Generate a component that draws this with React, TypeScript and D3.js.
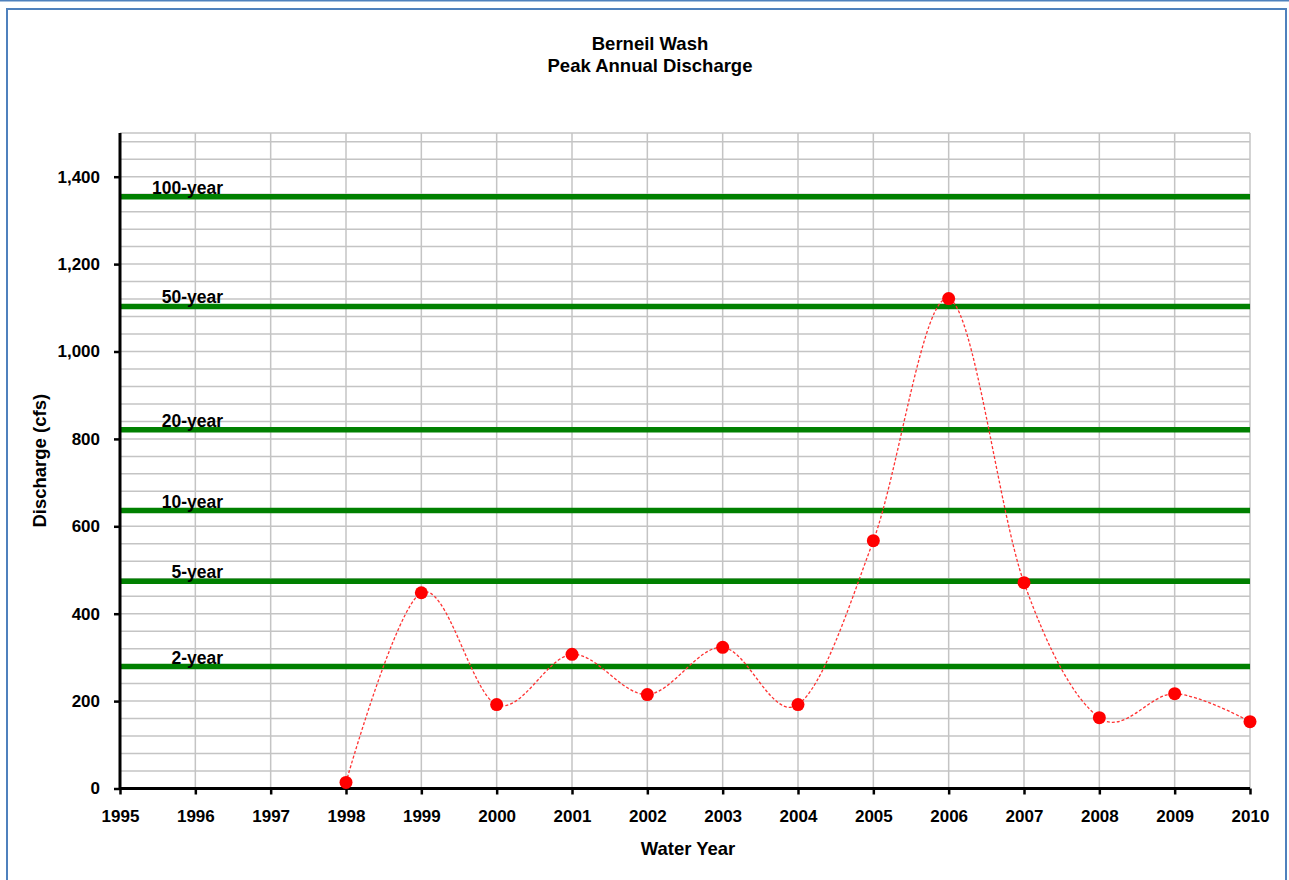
import React, { useEffect, useRef } from 'react'
import * as d3 from 'd3'

const years = [1998, 1999, 2000, 2001, 2002, 2003, 2004, 2005, 2006, 2007, 2008, 2009, 2010]
const discharge = [14, 448, 192, 307, 215, 323, 192, 567, 1121, 471, 162, 217, 153]

const returnLabels = ['100-year', '50-year', '20-year', '10-year', '5-year', '2-year']
const returnValues = [1354, 1103, 821, 636, 474, 279]

const xTicks = d3.range(1995, 2011)
const yTicks = [0, 200, 400, 600, 800, 1000, 1200, 1400]

export default function App() {
  const svgRef = useRef<SVGSVGElement | null>(null)

  useEffect(() => {
    const width = 1289, height = 880
    const m = { top: 133, right: 39, bottom: 91, left: 120 }
    const svg = d3.select(svgRef.current).attr('width', width).attr('height', height)
    svg.selectAll('*').remove()
    const font = "'Liberation Sans', Arial, sans-serif"

    svg.append('rect').attr('width', width).attr('height', height).attr('fill', '#fff')
    // outer chart frame
    svg.append('line').attr('x1', 0).attr('x2', width).attr('y1', 0.5).attr('y2', 0.5)
      .attr('stroke', '#4f81bd').attr('stroke-width', 2)
    svg.append('rect').attr('x', 7).attr('y', 9).attr('width', 1279).attr('height', 890)
      .attr('fill', 'none').attr('stroke', '#4f81bd').attr('stroke-width', 2)

    const x = d3.scaleLinear().domain([1995, 2010]).range([m.left, width - m.right])
    const y = d3.scaleLinear().domain([0, 1500]).range([height - m.bottom - 0.5, m.top])

    // gridlines
    const grid = svg.append('g').attr('stroke', '#c4c4c4').attr('stroke-width', 1.5)
    grid.selectAll('line.h').data(d3.range(40, 1500, 40).concat([1500])).join('line')
      .attr('x1', x(1995)).attr('x2', x(2010)).attr('y1', d => y(d)).attr('y2', d => y(d))
    grid.selectAll('line.v').data(xTicks.slice(1)).join('line')
      .attr('y1', y(0)).attr('y2', y(1500)).attr('x1', d => x(d)).attr('x2', d => x(d))

    // return period lines
    svg.append('g').selectAll('line').data(returnValues).join('line')
      .attr('x1', x(1995)).attr('x2', x(2010)).attr('y1', d => y(d)).attr('y2', d => y(d))
      .attr('stroke', '#008000').attr('stroke-width', 5.5)
    svg.append('g').selectAll('text').data(returnValues).join('text')
      .attr('x', x(1995) + 103).attr('y', d => y(d) - 3)
      .attr('text-anchor', 'end').attr('font-family', font).attr('font-size', 17.5).attr('font-weight', 'bold')
      .attr('fill', '#000').text((d, i) => returnLabels[i])

    // axes
    const yAxis = svg.append('g').attr('transform', `translate(${m.left},0)`)
      .call(d3.axisLeft(y).tickValues(yTicks).tickSize(6).tickFormat(d3.format(',')))
    const xAxis = svg.append('g').attr('transform', `translate(0,${y(0)})`)
      .call(d3.axisBottom(x).tickValues(xTicks).tickSize(6).tickFormat(d3.format('d')))
    for (const ax of [yAxis, xAxis]) {
      ax.select('.domain').attr('stroke', '#000').attr('stroke-width', 3)
      ax.selectAll('.tick line').attr('stroke', '#000').attr('stroke-width', 2.5)
      ax.selectAll('.tick text').attr('font-family', font).attr('font-size', 17)
        .attr('font-weight', 'bold').attr('fill', '#000')
    }
    yAxis.selectAll('.tick text').attr('x', -20)
    xAxis.selectAll('.tick text').attr('y', 21)
    yAxis.select('.domain').attr('d', `M0,${y(0)}V${y(1500)}`)
    xAxis.select('.domain').attr('d', `M${x(1995)},0H${x(2010)}`)

    // series
    const pts = years.map((yr, i) => [x(yr), y(discharge[i])] as [number, number])
    svg.append('path').attr('d', d3.line().curve(d3.curveCardinal.tension(0))(pts))
      .attr('fill', 'none').attr('stroke', '#ff3333').attr('stroke-width', 1.3)
      .attr('stroke-dasharray', '3,2')
    svg.append('g').selectAll('circle').data(pts).join('circle')
      .attr('cx', d => d[0]).attr('cy', d => d[1]).attr('r', 6.5).attr('fill', '#ff0000')

    // titles
    const titleSize = 18.5
    svg.append('text').attr('x', 650).attr('y', 50).attr('text-anchor', 'middle')
      .attr('font-family', font).attr('font-size', titleSize).attr('font-weight', 'bold').text('Berneil Wash')
    svg.append('text').attr('x', 650).attr('y', 72).attr('text-anchor', 'middle')
      .attr('font-family', font).attr('font-size', titleSize).attr('font-weight', 'bold').text('Peak Annual Discharge')
    svg.append('text').attr('x', 688).attr('y', 855).attr('text-anchor', 'middle')
      .attr('font-family', font).attr('font-size', titleSize).attr('font-weight', 'bold').text('Water Year')
    svg.append('text').attr('transform', `translate(46,${y(750)}) rotate(-90)`).attr('text-anchor', 'middle')
      .attr('font-family', font).attr('font-size', titleSize).attr('font-weight', 'bold').text('Discharge (cfs)')
  }, [])

  return (
    <div style={{ position: 'absolute', left: 0, top: 0 }}>
      <svg ref={svgRef} style={{ display: 'block' }}></svg>
    </div>
  )
}
